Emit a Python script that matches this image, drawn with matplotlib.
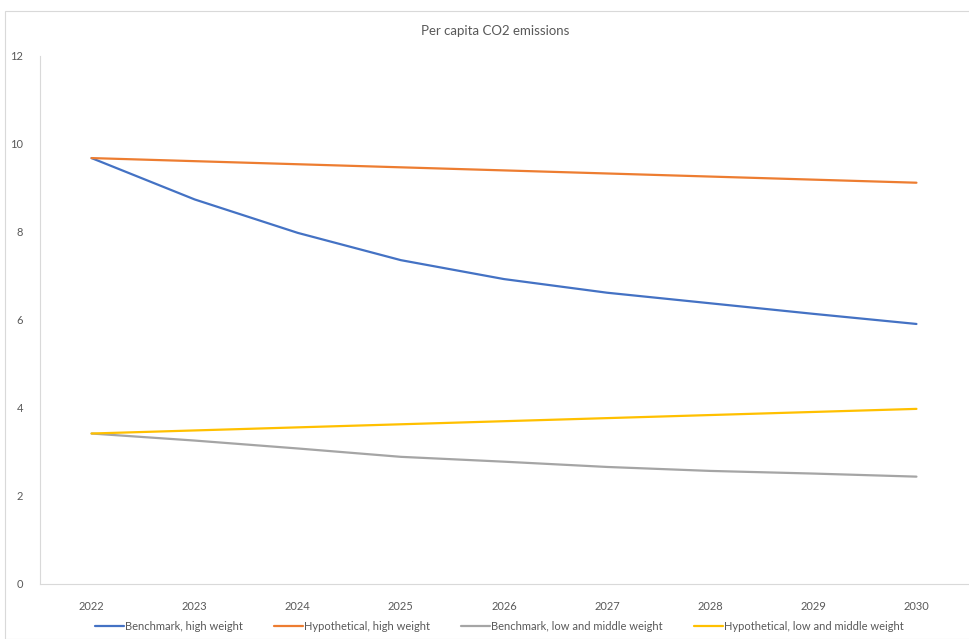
import matplotlib.pyplot as plt
from matplotlib.patches import Rectangle

plt.rcParams["font.family"] = ["Lato", "DejaVu Sans"]

# DATA
years = [2022, 2023, 2024, 2025, 2026, 2027, 2028, 2029, 2030]
bench_high = [9.68, 8.74, 7.98, 7.36, 6.93, 6.62, 6.38, 6.14, 5.91]
hypo_high = [9.68, 9.61, 9.54, 9.47, 9.40, 9.33, 9.26, 9.19, 9.12]
bench_low = [3.42, 3.26, 3.08, 2.89, 2.78, 2.66, 2.57, 2.51, 2.44]
hypo_low = [3.42, 3.49, 3.56, 3.63, 3.70, 3.77, 3.84, 3.91, 3.98]

series = [
    ("Benchmark, high weight", bench_high, "#4472C4"),
    ("Hypothetical, high weight", hypo_high, "#ED7D31"),
    ("Benchmark, low and middle weight", bench_low, "#A5A5A5"),
    ("Hypothetical, low and middle weight", hypo_low, "#FFC000"),
]

fig = plt.figure(figsize=(9.7, 6.39), dpi=100)
ax = fig.add_axes([40 / 970, 55 / 639, 928 / 970, 528 / 639])

for label, vals, color in series:
    ax.plot(years, vals, color=color, lw=1.6, label=label, solid_capstyle="round")

ax.set_xlim(2021.5, 2030.5)
ax.set_ylim(0, 12)
ax.set_xticks(years)
ax.set_yticks(range(0, 13, 2))
ax.tick_params(axis="both", length=0, labelsize=8, colors="#595959")
ax.tick_params(axis="x", pad=12)
ax.tick_params(axis="y", pad=12)

for side in ["top", "right"]:
    ax.spines[side].set_visible(False)
for side in ["left", "bottom"]:
    ax.spines[side].set_color("#D9D9D9")
    ax.spines[side].set_linewidth(0.8)

fig.text(0.51, 0.952, "Per capita CO2 emissions", ha="center", va="center",
         fontsize=9.5, color="#595959")

ax.legend(loc="center", bbox_to_anchor=(0.515, 0.02), bbox_transform=fig.transFigure,
          ncol=4, frameon=False, fontsize=8, handlelength=2.6, handletextpad=0.1,
          columnspacing=2.8, labelcolor="#595959")

# outer chart border
fig.patches.append(Rectangle((5 / 970, 0), 1, 1 - 11 / 639, transform=fig.transFigure,
                             fill=False, edgecolor="#D9D9D9", lw=0.8))

plt.savefig("out.png", dpi=100)
plt.close()
